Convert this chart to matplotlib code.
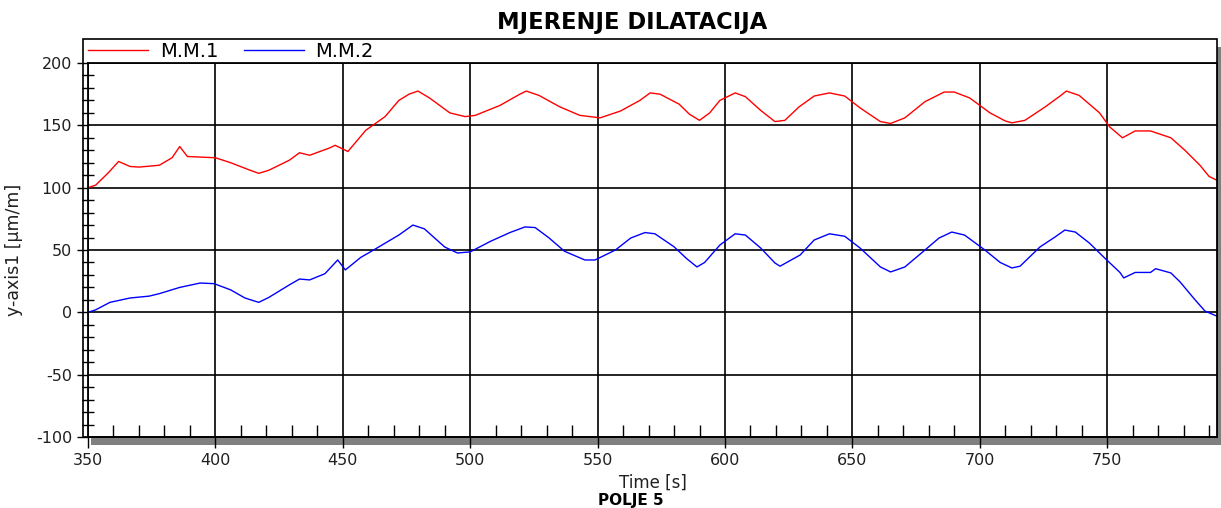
import matplotlib.pyplot as plt
from matplotlib.patches import Rectangle
from matplotlib.ticker import MultipleLocator

plt.rcParams['axes.unicode_minus'] = False

# M.M.1 (red)
t1 = [350, 353, 358, 362, 366.5, 370, 378, 383, 386, 389, 400, 406, 413.6, 417, 421,
      429, 433, 437, 445, 447, 452, 459, 466.6, 472, 476, 479.5, 484, 492, 498, 502,
      511.7, 519.5, 522, 527, 535, 543, 551, 559, 566.6, 570.6, 574.5, 582, 586,
      590, 594, 598, 604, 608, 614, 619.6, 623.5, 629, 635, 641, 647, 653, 661,
      665, 670.6, 678.5, 686, 690, 696, 704, 710, 712.6, 717.7, 725.6, 731.5,
      734, 739, 747, 751, 756, 761, 767, 775, 780.5, 786.4, 790, 793]
v1 = [100, 102, 112, 121, 117, 116.5, 118, 124, 133, 125, 124, 120, 114, 111.5, 114,
      122, 128, 126, 132, 134, 129, 146, 157, 170, 175, 177.5, 172, 160, 157, 158,
      166, 175, 177.5, 174, 165, 158, 156, 161.5, 170, 176, 175, 167, 159,
      154, 160, 170, 176, 173, 162, 153, 154, 164.7, 173.5, 176, 173.5, 164, 153,
      151.5, 156, 169, 176.7, 176.7, 172, 160, 153.5, 152, 154, 164.7, 173.5,
      177.5, 174, 160, 148.7, 140, 145.5, 145.5, 140, 130, 118, 109, 106]

# M.M.2 (blue)
t2 = [350, 353, 358.6, 366.5, 374, 378, 386, 394, 399.5, 406, 411.6, 417, 421,
      429, 433, 437, 443, 448, 451, 457, 462.6, 472, 477.5, 482, 490, 495, 500,
      508, 515.6, 521.5, 525.5, 531, 537, 545, 549, 557, 563, 568.6, 572.5, 580,
      585, 589, 592, 598, 604, 608, 614, 619.6, 621.6, 629.5, 635, 641, 647, 653,
      661, 665, 670.6, 678.5, 684, 689, 694, 702, 708, 712.6, 715.8, 723.6, 729.5,
      733.4, 737.5, 743, 749, 755, 756.5, 761, 767, 769, 775, 778.6, 784.5, 788.4, 793]
v2 = [0, 2, 8, 11.5, 13, 15, 20, 23.5, 23, 18, 11.5, 8, 12,
      22, 26.7, 26, 31, 42, 34, 44, 50.6, 62, 70, 67, 52.4, 47.6, 48.5,
      57, 64, 68.5, 68, 59.6, 49, 42, 42, 50, 59.6, 64, 63, 52.6,
      43, 36.4, 40, 54, 63, 62, 51.6, 39.6, 37, 46, 58, 63, 61, 51.6,
      36.4, 32.4, 36.4, 50, 59.6, 64.4, 62, 50, 40, 35.6, 37, 52.4, 60.4,
      66, 64.4, 55.6, 43.6, 32, 27.6, 32, 32, 35, 31.6, 24.4, 10, 1, -3]

series_names = ['M.M.1', 'M.M.2']
x_ticks = [350, 400, 450, 500, 550, 600, 650, 700, 750]
y_ticks = [-100, -50, 0, 50, 100, 150, 200]

W, H = 1221, 508
fig = plt.figure(figsize=(W / 100, H / 100), dpi=100, facecolor='white')


def fx(px):
    return px / W


def fy(py):
    return 1 - py / H


# shadow and frame round legend + plot
fig.patches.append(Rectangle((fx(91), fy(445)), fx(1221) - fx(91), fy(47) - fy(445),
                             transform=fig.transFigure, facecolor='#808080',
                             edgecolor='none', zorder=0))
fig.patches.append(Rectangle((fx(83), fy(437)), fx(1217) - fx(83), fy(39) - fy(437),
                             transform=fig.transFigure, facecolor='white',
                             edgecolor='black', lw=1.2, zorder=1))

ax = fig.add_axes([fx(88), fy(437), fx(1217) - fx(88), fy(63) - fy(437)])
ax.set_zorder(2)
ax.plot(t1, v1, color='#ff0000', lw=1.0, label=series_names[0])
ax.plot(t2, v2, color='#0000ff', lw=1.0, label=series_names[1])

ax.set_xlim(350, 793.1)
ax.set_ylim(-100, 200)
ax.set_xticks(x_ticks)
ax.set_yticks(y_ticks)
ax.xaxis.set_minor_locator(MultipleLocator(10))
ax.yaxis.set_minor_locator(MultipleLocator(10))
ax.grid(True, which='major', color='black', lw=1.2)
ax.tick_params(which='major', direction='out', length=8, width=1, labelsize=11.5,
               colors='black', labelcolor='#202020')
ax.tick_params(axis='x', which='minor', direction='in', length=9, width=1)
ax.tick_params(axis='y', which='minor', direction='inout', length=8, width=1)
for s in ax.spines.values():
    s.set_linewidth(1.3)

ax.set_xlabel('Time [s]', fontsize=12, color='#202020', labelpad=4)
ax.set_ylabel('y-axis1 [µm/m]', fontsize=12.5, color='#202020', labelpad=9)

ax.legend(loc='center left', bbox_to_anchor=(0.0, 1.032), ncol=2, frameon=False,
          fontsize=14, handlelength=3.1, handletextpad=0.6, columnspacing=1.3,
          borderpad=0, borderaxespad=0)

fig.text(fx(632), fy(23), 'MJERENJE DILATACIJA', ha='center', va='center',
         fontsize=16.3, fontweight='bold')
fig.text(fx(631), fy(500), 'POLJE 5', ha='center', va='center',
         fontsize=11, fontweight='bold')

fig.savefig('out.png', dpi=100, facecolor='white')
